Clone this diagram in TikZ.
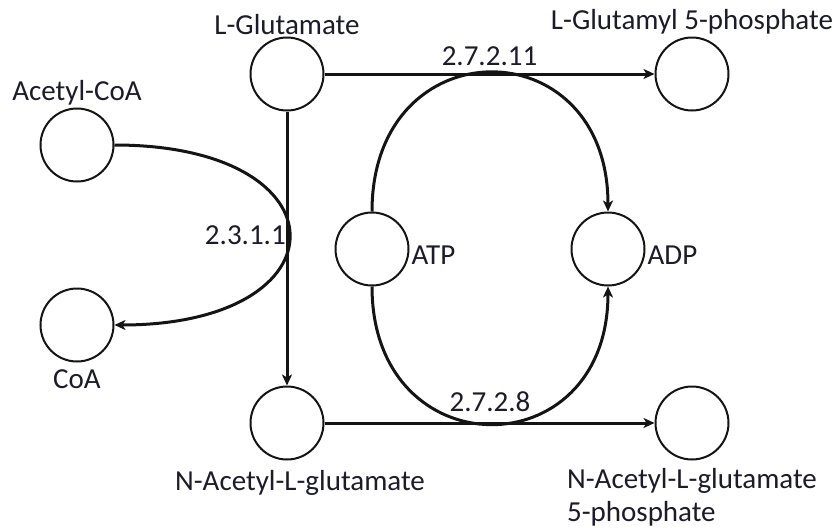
\documentclass[tikz,border=0pt]{standalone}
\usepackage{fontspec}
\setmainfont{Carlito}
\usetikzlibrary{arrows.meta}
\definecolor{cline}{HTML}{141414}
\definecolor{ctext}{HTML}{1B1B2A}

\begin{document}
\begin{tikzpicture}[
  x=1pt, y=-1pt,
  font=\fontsize{29}{33}\selectfont,
  met/.style={circle, draw=cline, line width=2pt, minimum size=73pt, inner sep=0pt},
  lab/.style={text=ctext, inner sep=2pt},
  ec/.style={text=ctext, inner sep=2pt},
  flow/.style={-{Stealth[length=11pt,width=10pt,inset=3pt]}, draw=cline, line width=3pt}
]
\useasboundingbox (0,0) rectangle (839,528);
\node[met, label={[lab]above:L-Glutamate}]            (glu)  at (287,74)  {};
\node[met, label={[lab]above:L-Glutamyl 5-phosphate}] (glup) at (692,74)  {};
\node[met, label={[lab]above:Acetyl-CoA}]             (acoa) at (77,145)  {};
\node[met, label={[lab,label distance=5pt]below:CoA}] (coa)  at (77,325)  {};
\node[met, label={[lab,yshift=-6pt]right:ATP}]        (atp)  at (372,249) {};
\node[met, label={[lab,yshift=-6pt]right:ADP}]        (adp)  at (608,249) {};
\node[met, label={[lab,xshift=13pt,label distance=8pt]below:N-Acetyl-L-glutamate}] (nag) at (287,423) {};
\node[met, label={[lab,align=left,label distance=6pt]below:N-Acetyl-L-glutamate\\5-phosphate}] (nagp) at (692,423) {};
\draw[flow] (glu) -- node[ec, above=5pt]{2.7.2.11} (glup);
\draw[flow] (glu) -- (nag);
\draw[flow] (nag) -- (nagp);
\draw[flow] (acoa.east) .. controls +(233,0) and +(233,0) .. node[ec, left]{2.3.1.1} (coa.east);
\draw[flow] (atp.north) .. controls +(0,-185) and +(0,-185) .. (adp.north);
\draw[flow] (atp.south) .. controls +(0,183) and +(0,183) .. node[ec, above=9pt]{2.7.2.8} (adp.south);
\end{tikzpicture}
\end{document}
